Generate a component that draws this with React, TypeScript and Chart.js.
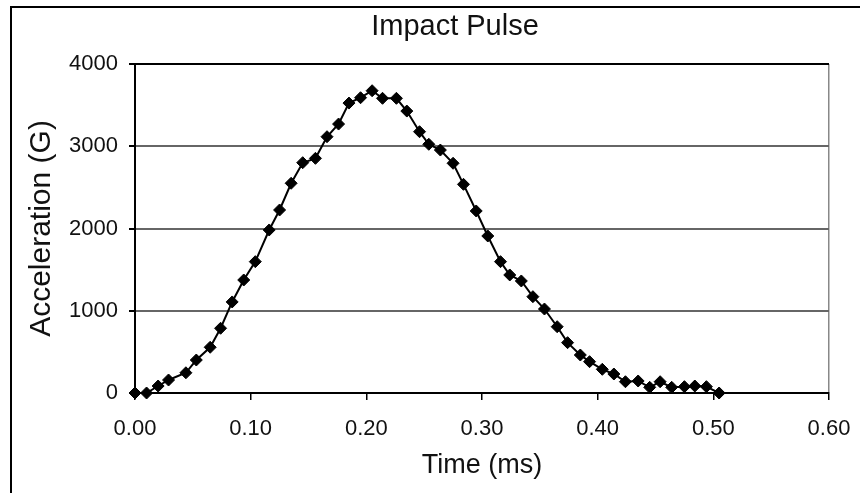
import { useEffect, useRef } from "react";
import { Chart, registerables } from "chart.js";

Chart.register(...registerables);

const chartTitle = "Impact Pulse";
const xAxisTitle = "Time (ms)";
const yAxisTitle = "Acceleration (G)";

const timeMs = [
  0.0, 0.01, 0.02, 0.029, 0.044, 0.053, 0.065, 0.074, 0.084, 0.094,
  0.104, 0.116, 0.125, 0.135, 0.145, 0.156, 0.166, 0.176, 0.185, 0.195,
  0.205, 0.214, 0.226, 0.235, 0.246, 0.254, 0.264, 0.275, 0.284, 0.295,
  0.305, 0.316, 0.324, 0.334, 0.344, 0.354, 0.365, 0.374, 0.385, 0.393,
  0.404, 0.414, 0.424, 0.435, 0.445, 0.454, 0.464, 0.475, 0.484, 0.494,
  0.505,
];

const accelG = [
  0, 0, 85, 158, 246, 401, 556, 787, 1107, 1374,
  1597, 1982, 2225, 2550, 2800, 2853, 3116, 3270, 3525, 3590,
  3675, 3583, 3583, 3428, 3177, 3024, 2954, 2793, 2537, 2213,
  1909, 1597, 1435, 1362, 1171, 1021, 806, 612, 462, 381,
  288, 231, 137, 146, 69, 137, 69, 77, 85, 77,
  0,
];

const xMin = 0;
const xMax = 0.6;
const xStep = 0.1;
const yMin = 0;
const yMax = 4000;
const yStep = 1000;

const FONT = "'Liberation Sans', Arial, sans-serif";

export default function App() {
  const ref = useRef<HTMLCanvasElement>(null);

  useEffect(() => {
    const canvas = ref.current;
    if (!canvas) return;
    const chart = new Chart(canvas, {
      type: "scatter",
      data: {
        datasets: [
          {
            data: timeMs.map((t, i) => ({ x: t, y: accelG[i] })),
            showLine: true,
            borderColor: "#000",
            borderWidth: 2,
            pointStyle: "rectRot",
            pointRadius: 6,
            pointBackgroundColor: "#000",
            pointBorderColor: "#000",
            pointBorderWidth: 1,
            tension: 0,
            clip: false as any,
          },
        ],
      },
      options: {
        animation: false,
        responsive: false,
        devicePixelRatio: 1,
        layout: { padding: { left: 0, right: 79, top: 0, bottom: 0 } },
        plugins: {
          legend: { display: false },
          tooltip: { enabled: false },
          title: {
            display: true,
            text: chartTitle,
            color: "#111",
            font: { family: FONT, size: 29, weight: "normal" },
            padding: { top: 9.6, bottom: 19.6 },
          },
        },
        scales: {
          x: {
            type: "linear",
            min: xMin,
            max: xMax,
            afterFit: (s: any) => {
              s.height = 100;
            },
            ticks: {
              stepSize: xStep,
              color: "#111",
              font: { family: FONT, size: 22 },
              padding: 16,
              maxRotation: 0,
              callback: (v: any) => Number(v).toFixed(2),
            },
            grid: {
              drawOnChartArea: true,
              tickLength: 7,
              tickColor: "#000",
              lineWidth: 1.5,
              color: (ctx: any) =>
                Math.abs(ctx.tick.value - xMax) < 1e-9 ? "#888" : "rgba(0,0,0,0)",
            },
            border: { display: true, color: "#000", width: 2 },
            title: {
              display: true,
              text: xAxisTitle,
              color: "#111",
              font: { family: FONT, size: 27 },
              padding: { top: 0, bottom: 10.8 },
            },
          },
          y: {
            type: "linear",
            position: "left",
            min: yMin,
            max: yMax,
            afterFit: (s: any) => {
              s.width = 135;
            },
            ticks: {
              stepSize: yStep,
              color: "#111",
              font: { family: FONT, size: 22 },
              padding: 11,
              callback: (v: any) => String(v),
            },
            grid: {
              tickLength: 6,
              tickColor: "#000",
              lineWidth: 2,
              color: (ctx: any) =>
                ctx.tick.value === yMax || ctx.tick.value === yMin ? "#000" : "#666",
            },
            border: { display: true, color: "#000", width: 2 },
            title: {
              display: true,
              text: yAxisTitle,
              color: "#111",
              font: { family: FONT, size: 30 },
              padding: { top: 24, bottom: 0 },
            },
          },
          ySpacer: {
            type: "linear",
            position: "right",
            display: true,
            afterFit: (s: any) => {
              s.width = 81;
            },
            ticks: { display: false },
            grid: { display: false, drawOnChartArea: false },
            border: { display: false },
            title: { display: false },
          },
        },
      },
    });
    return () => chart.destroy();
  }, []);

  return (
    <div
      style={{
        position: "fixed",
        left: 0,
        top: 0,
        width: 860,
        height: 493,
        overflow: "hidden",
        background: "#fff",
      }}
    >
      <canvas
        ref={ref}
        width={989}
        height={493}
        style={{ display: "block", width: 989, height: 493 }}
      />
      <div
        style={{
          position: "absolute",
          left: 10,
          top: 6,
          right: 0,
          bottom: 0,
          borderLeft: "2px solid #000",
          borderTop: "2px solid #000",
          pointerEvents: "none",
        }}
      />
    </div>
  );
}
